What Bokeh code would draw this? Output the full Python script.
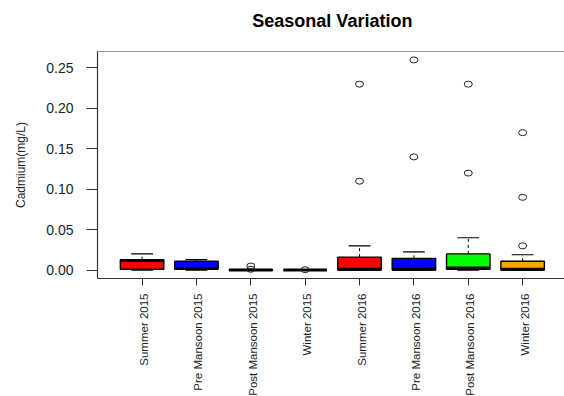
import math
from bokeh.plotting import figure
from bokeh.layouts import column
from bokeh.models import Range1d, FixedTicker, Span, ColumnDataSource
from bokeh.core.properties import value
from bokeh.embed import file_html
from bokeh.resources import INLINE

# ---- data ----
title_text = "Seasonal Variation"
y_label = "Cadmium(mg/L)"
categories = ["Summer 2015", "Pre Mansoon 2015", "Post Mansoon 2015", "Winter 2015",
              "Summer 2016", "Pre Mansoon 2016", "Post Mansoon 2016", "Winter 2016"]
lower_whisker = [0.0, 0.0, 0.0, 0.0, 0.0, 0.0, 0.0, 0.0]
q1 = [0.001, 0.0012, 0.0, 0.0, 0.0, 0.0, 0.001, 0.0]
median = [0.012, 0.002, 0.0, 0.0, 0.001, 0.001, 0.0025, 0.001]
q3 = [0.013, 0.011, 0.0005, 0.0, 0.016, 0.0145, 0.020, 0.011]
upper_whisker = [0.020, 0.013, 0.0005, 0.0, 0.030, 0.0225, 0.040, 0.019]
outlier_group = [3, 3, 4, 5, 5, 6, 6, 7, 7, 8, 8, 8]
outlier_value = [0.005, 0.001, 0.0005, 0.11, 0.23, 0.14, 0.26, 0.12, 0.23, 0.03, 0.09, 0.17]
box_colors = ["#FF0000", "#0000FF", "#00FF00", "#FFA500",
              "#FF0000", "#0000FF", "#00FF00", "#FFA500"]
y_ticks = [0.0, 0.05, 0.10, 0.15, 0.20, 0.25]
y_tick_labels = ["0.00", "0.05", "0.10", "0.15", "0.20", "0.25"]

# ---- derived ----
pos = [i + 1 for i in range(len(categories))]
box_w = 0.8
cap_w = 0.4
y_lo, y_hi = -0.0104, 0.2704
x_rng = Range1d(0.18, 8.77)
src = ColumnDataSource(dict(
    x=pos, q1=q1, q3=q3, med=median, lw=lower_whisker, uw=upper_whisker, color=box_colors,
    bx0=[p - box_w / 2 for p in pos], bx1=[p + box_w / 2 for p in pos],
    cx0=[p - cap_w / 2 for p in pos], cx1=[p + cap_w / 2 for p in pos],
))

font = "Liberation Sans"
axis_col = "#333333"
W = 564


def bare(height):
    f = figure(width=W, height=height, output_backend="svg", toolbar_location=None,
               x_range=x_rng, y_range=Range1d(0, 1), x_axis_location=None,
               y_axis_location=None, min_border_left=97, min_border_right=0,
               min_border_top=0, min_border_bottom=0)
    f.outline_line_color = None
    f.grid.visible = False
    return f


# ---- title strip ----
ft = bare(49)
ft.text(x=[(pos[0] + pos[-1]) / 2], y=[0.5], text=[title_text], y_offset=-4,
        text_align="center", text_baseline="middle", text_font=value(font),
        text_font_style="bold", text_font_size="18px", text_color="black")

# ---- main plot ----
p = figure(width=W, height=239, output_backend="svg", toolbar_location=None,
           x_range=x_rng, y_range=Range1d(y_lo, y_hi),
           min_border_left=97, min_border_right=0, min_border_top=2, min_border_bottom=10)
p.outline_line_color = None
p.grid.visible = False

# whiskers (dashed)
p.segment(x0="x", y0="q3", x1="x", y1="uw", source=src, line_color="black",
          line_width=1, line_dash="3 3")
p.segment(x0="x", y0="q1", x1="x", y1="lw", source=src, line_color="black",
          line_width=1, line_dash="3 3")
# caps
p.segment(x0="cx0", y0="uw", x1="cx1", y1="uw", source=src, line_color="black", line_width=1.2)
p.segment(x0="cx0", y0="lw", x1="cx1", y1="lw", source=src, line_color="black", line_width=1.2)
# boxes
p.vbar(x="x", width=box_w, bottom="q1", top="q3", source=src, fill_color="color",
       line_color="black", line_width=1.4)
# medians
p.segment(x0="bx0", y0="med", x1="bx1", y1="med", source=src, line_color="black", line_width=3)
# outliers
p.ellipse(x=outlier_group, y=outlier_value, width=8, height=6, width_units="screen",
          height_units="screen", fill_color=None, line_color="#222222", line_width=1)

# top border of the plot box
p.add_layout(Span(location=y_hi, dimension="width", line_color=axis_col, line_width=1.2))

ya = p.yaxis[0]
ya.ticker = FixedTicker(ticks=y_ticks)
ya.major_label_overrides = {t: l for t, l in zip(y_ticks, y_tick_labels)}
ya.axis_label = y_label
ya.axis_label_text_font = font
ya.axis_label_text_font_style = "normal"
ya.axis_label_text_font_size = "12px"
ya.axis_label_text_color = "#222222"
ya.axis_label_standoff = 15
ya.major_label_text_font = font
ya.major_label_text_font_size = "14px"
ya.major_label_text_color = "#222222"
ya.major_label_standoff = 13
ya.major_tick_out = 11
ya.major_tick_in = 0
ya.minor_tick_out = 0
ya.minor_tick_in = 0
ya.axis_line_color = axis_col
ya.major_tick_line_color = axis_col
ya.axis_line_width = 1.2

xa = p.xaxis[0]
xa.ticker = FixedTicker(ticks=pos)
xa.major_label_overrides = {pp: "" for pp in pos}
xa.major_label_text_font_size = "1px"
xa.major_label_standoff = 0
xa.major_tick_out = 7
xa.major_tick_in = 0
xa.minor_tick_out = 0
xa.minor_tick_in = 0
xa.axis_line_color = axis_col
xa.major_tick_line_color = axis_col
xa.axis_line_width = 1.2

# ---- rotated category labels strip ----
fb = bare(108)
fb.text(x=pos, y=[1] * len(pos), text=categories, angle=math.pi / 2, y_offset=5, x_offset=2,
        text_align="right", text_baseline="middle", text_font=value(font),
        text_font_size="11.5px", text_color="#222222")

layout = column(ft, p, fb, spacing=0)
open("out.html", "w").write(file_html(layout, INLINE))
